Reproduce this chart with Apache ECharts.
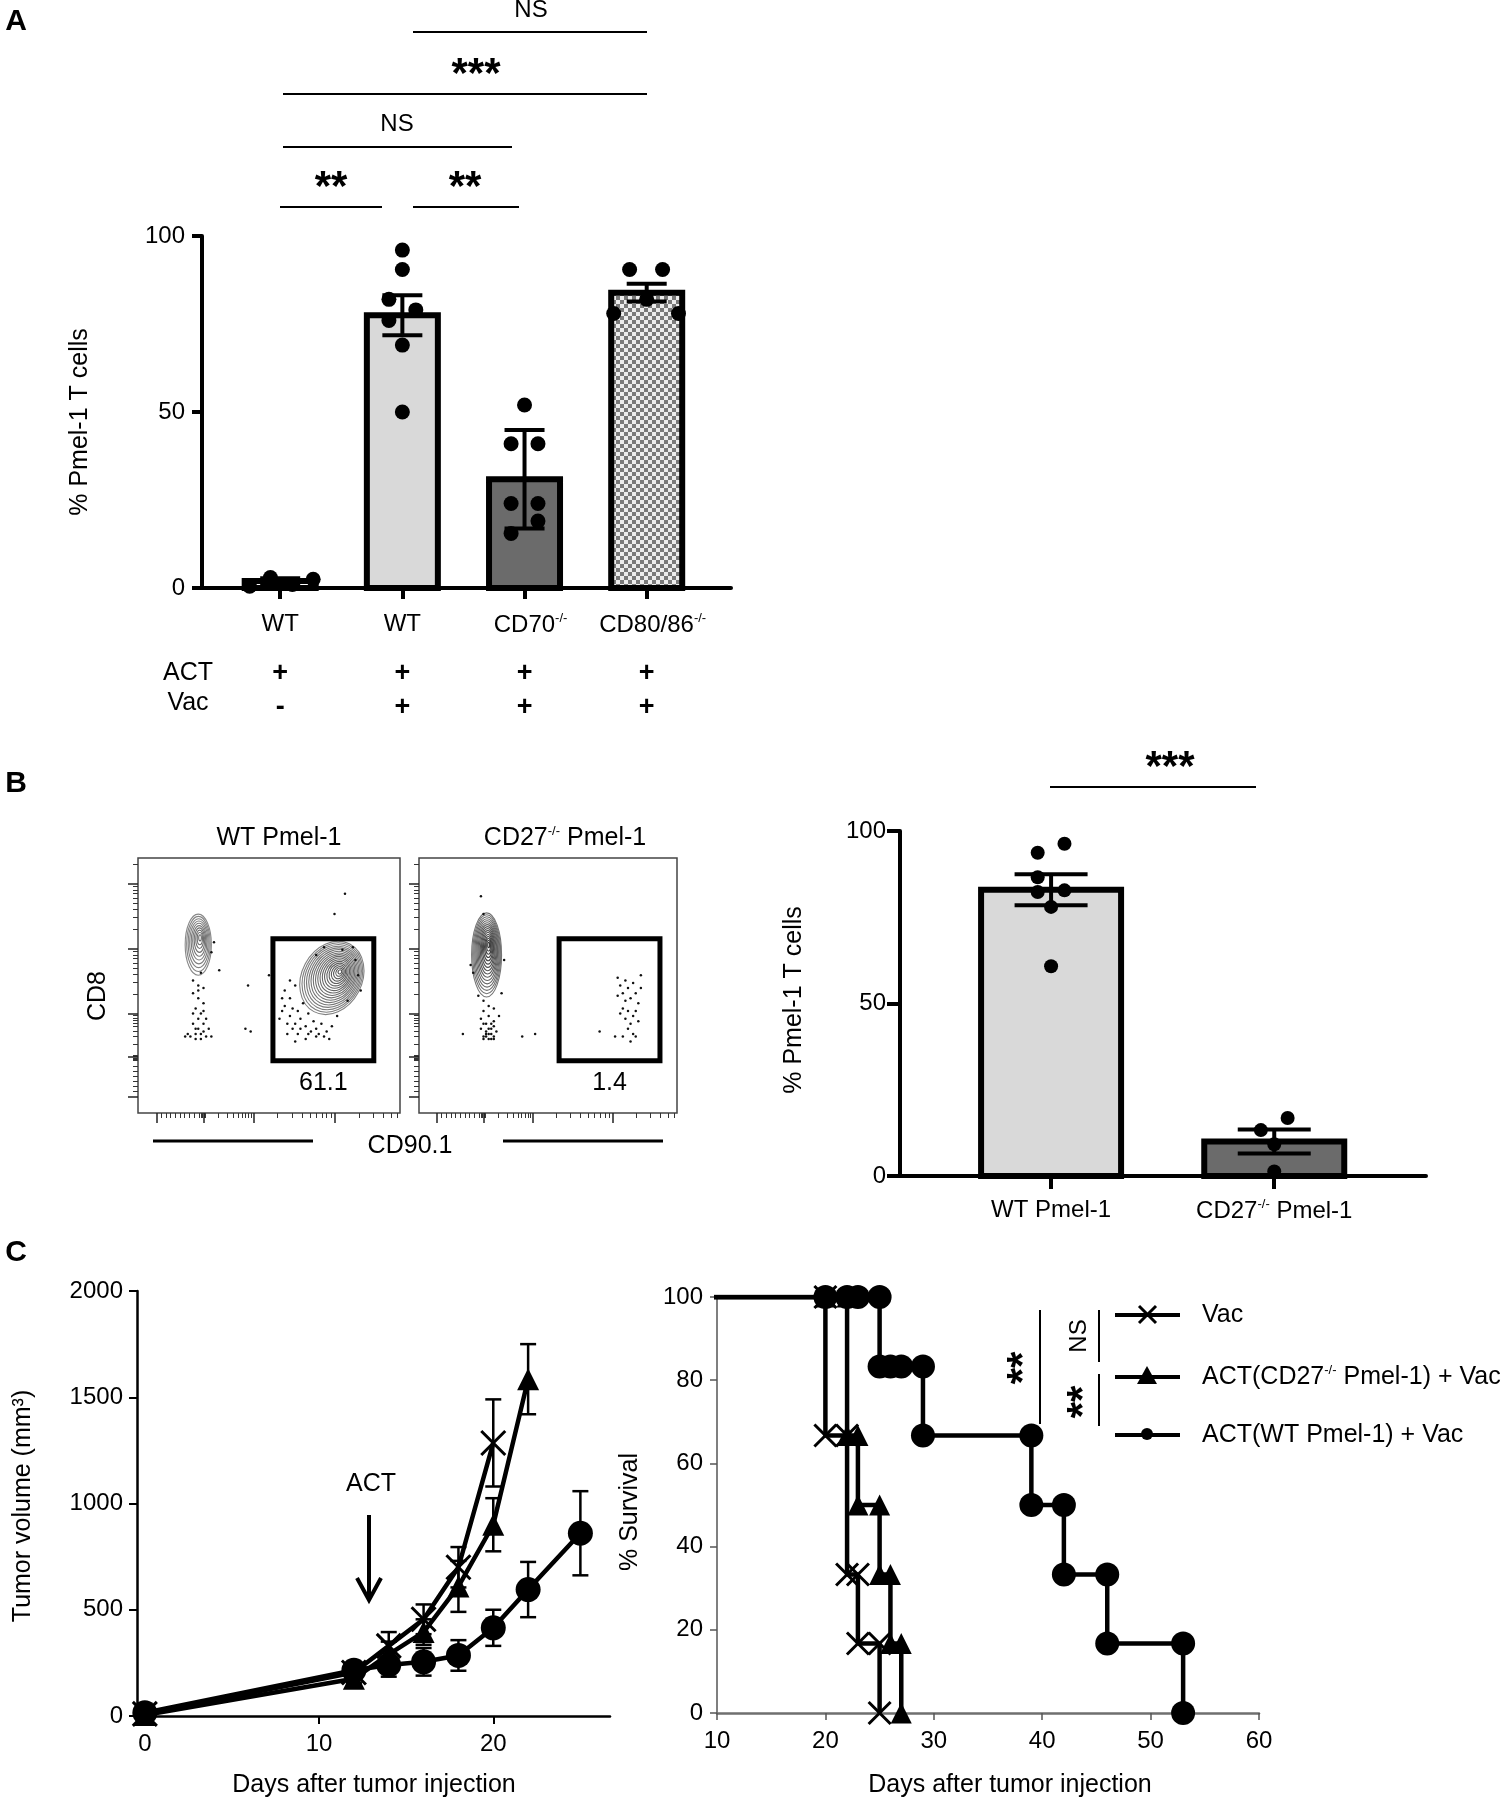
<!DOCTYPE html>
<html>
<head>
<meta charset="utf-8">
<title>Pmel-1 figure</title>
<script src="https://cdn.jsdelivr.net/npm/echarts@6/dist/echarts.min.js"></script>
<style>
html,body{margin:0;padding:0;background:#fff;}
#chart{width:1509px;height:1800px;}
</style>
</head>
<body>
<div id="chart"></div>
<script>
// ================= DATA =================
// ---- Panel A ----
const aCategories = ['WT', 'WT', 'CD70', 'CD80/86'];
const aKnockout = [false, false, true, true];
const aActRow = ['+', '+', '+', '+'];
const aVacRow = ['-', '+', '+', '+'];
const aMeans = [2, 77.5, 30.9, 83.9];
const aErrors = [0.8, 5.7, 14, 2.5];
const aDots = [
  [-0.25, 0.5], [-0.08, 3], [0.1, 1], [0.27, 2.5],
  [1, 96], [1, 90.5], [0.89, 82], [1.11, 79], [0.89, 76], [1, 69], [1, 50],
  [2, 52], [1.89, 41], [2.11, 41], [1.89, 24], [2.11, 24], [2.11, 19], [1.89, 15.5],
  [2.86, 90.5], [3.13, 90.5], [3, 82], [2.73, 78], [3.26, 78]
];

// ---- Panel B flow plots (axis units 0..1, log-like display) ----
const flowGateWT = [[0.515, 0.205, 0.90, 0.683, 61.1]];
const flowGateKO = [[0.543, 0.205, 0.934, 0.683, 1.4]];
// populations: [cx, cy, rx, ry, tiltDeg, contourLevels, density]
const flowPopsWT = [[0.23, 0.66, 0.05, 0.12, 0, 10, 0.5], [0.74, 0.53, 0.115, 0.15, 28, 18, 0.65]];
const flowPopsKO = [[0.262, 0.62, 0.058, 0.165, 0, 16, 0.9]];
const flowDotsWT = [
  [0.21,0.47],[0.23,0.45],[0.25,0.43],[0.22,0.41],[0.24,0.39],[0.23,0.37],[0.21,0.35],[0.25,0.35],[0.22,0.33],
  [0.24,0.31],[0.20,0.30],[0.26,0.30],[0.23,0.50],[0.25,0.49],[0.21,0.52],[0.24,0.55],[0.28,0.63],[0.29,0.67],
  [0.31,0.56],[0.28,0.30],[0.18,0.30],[0.22,0.31],[0.24,0.29],[0.23,0.48],[0.19,0.31],[0.27,0.33],[0.26,0.37],
  [0.22,0.29],[0.25,0.32],[0.23,0.33],[0.21,0.39],[0.25,0.40],
  [0.42,0.50],[0.41,0.33],[0.43,0.32],[0.79,0.86],[0.75,0.78],[0.50,0.54],
  [0.56,0.42],[0.58,0.38],[0.60,0.35],[0.62,0.37],[0.64,0.34],[0.66,0.32],[0.68,0.33],[0.70,0.35],[0.58,0.45],
  [0.56,0.48],[0.60,0.50],[0.63,0.43],[0.55,0.40],[0.61,0.31],[0.72,0.32],[0.74,0.34],[0.68,0.30],[0.64,0.29],
  [0.59,0.33],[0.57,0.35],[0.83,0.60],[0.84,0.54],[0.78,0.64],[0.71,0.65],[0.68,0.62],[0.76,0.38],[0.80,0.44],
  [0.54,0.37],[0.61,0.40],[0.65,0.39],[0.59,0.41],[0.62,0.33],[0.67,0.36],[0.69,0.31],[0.71,0.30],[0.57,0.31],
  [0.60,0.28],[0.65,0.31],[0.73,0.29],[0.82,0.65],[0.81,0.68],[0.85,0.48],[0.55,0.45],[0.58,0.52]
];
const flowDotsKO = [
  [0.25,0.40],[0.27,0.38],[0.29,0.36],[0.26,0.35],[0.28,0.33],[0.27,0.31],[0.25,0.30],[0.29,0.30],[0.26,0.30],
  [0.28,0.29],[0.30,0.32],[0.24,0.33],[0.27,0.42],[0.29,0.41],[0.25,0.44],[0.21,0.55],[0.20,0.58],[0.33,0.60],
  [0.32,0.47],[0.24,0.37],[0.28,0.35],[0.26,0.32],[0.27,0.29],[0.29,0.29],[0.25,0.29],[0.31,0.38],[0.23,0.46],
  [0.26,0.31],[0.28,0.31],[0.27,0.33],[0.25,0.35],[0.29,0.34],
  [0.24,0.85],[0.25,0.78],[0.40,0.30],[0.45,0.31],[0.17,0.31],
  [0.77,0.53],[0.78,0.50],[0.79,0.47],[0.80,0.52],[0.81,0.49],[0.82,0.45],[0.83,0.51],[0.84,0.47],[0.85,0.43],
  [0.80,0.44],[0.79,0.41],[0.81,0.40],[0.83,0.38],[0.82,0.35],[0.80,0.37],[0.78,0.39],[0.84,0.40],[0.86,0.49],
  [0.85,0.36],[0.81,0.33],[0.83,0.31],[0.79,0.30],[0.70,0.32],[0.76,0.30],[0.84,0.30],[0.82,0.28],[0.86,0.54],[0.77,0.46]
];

// ---- Panel B bar chart ----
const bCategories = ['WT Pmel-1', 'CD27 Pmel-1'];
const bMeans = [83, 10];
const bErrors = [4.5, 3.5];
const bDots = [
  [-0.06, 93.7], [0.06, 96.3], [-0.06, 86.6], [-0.06, 82.3], [0.06, 82.8], [0, 78], [0, 60.8],
  [1.06, 16.8], [0.94, 13.3], [1, 9.2], [1, 1.3]
];

// ---- Panel C tumor growth ----
const cDaysVac = [0, 12, 14, 16, 18, 20];
const cVolVac = [10, 205, 330, 455, 700, 1285];
const cErrVac = [0, 20, 65, 70, 95, 205];
const cDaysKO = [0, 12, 14, 16, 18, 20, 22];
const cVolKO = [5, 175, 290, 395, 610, 900, 1585];
const cErrKO = [0, 20, 60, 60, 120, 125, 165];
const cDaysWT = [0, 12, 14, 16, 18, 20, 22, 25];
const cVolWT = [15, 215, 240, 255, 285, 415, 595, 860];
const cErrWT = [0, 20, 55, 65, 72, 85, 130, 198];

// ---- Panel C survival (vertices of Kaplan-Meier steps) ----
const sVac = [[20,100],[20,66.7],[22,66.7],[22,33.3],[23,33.3],[23,16.7],[25,16.7],[25,0]];
const sKO = [[20,100],[22,100],[22,66.7],[23,66.7],[23,50],[25,50],[25,33.3],[26,33.3],[26,16.7],[27,16.7],[27,0]];
const sWT = [[20,100],[22,100],[23,100],[25,100],[25,83.3],[26,83.3],[27,83.3],[29,83.3],[29,66.7],[39,66.7],
             [39,50],[42,50],[42,33.3],[46,33.3],[46,16.7],[53,16.7],[53,0]];
const sLegend = ['Vac', 'ACT(CD27', 'ACT(WT Pmel-1) + Vac'];

// ================= RENDERING =================
const F = '"Liberation Sans", Arial, Helvetica, sans-serif';
const chart = echarts.init(document.getElementById('chart'), null, {renderer: 'canvas', width: 1509, height: 1800});

function checkerPattern() {
  const c = document.createElement('canvas');
  c.width = 8; c.height = 8;
  const g = c.getContext('2d');
  g.fillStyle = '#ededed'; g.fillRect(0, 0, 8, 8);
  g.fillStyle = '#7a7a7a'; g.fillRect(0, 0, 4, 4); g.fillRect(4, 4, 4, 4);
  return {image: c, repeat: 'repeat'};
}
const aFills = ['#ffffff', '#d9d9d9', '#6b6b6b', checkerPattern()];
const bFills = ['#d9d9d9', '#6b6b6b'];

function barRender(widthPx, fills, lw) {
  return function (params, api) {
    const x = api.value(0), y = api.value(1);
    const p0 = api.coord([x, 0]), p1 = api.coord([x, y]);
    return {type: 'rect', z2: 1,
      shape: {x: p0[0] - widthPx / 2, y: p1[1], width: widthPx, height: p0[1] - p1[1]},
      style: {fill: fills[params.dataIndex], stroke: '#000', lineWidth: lw}};
  };
}
function errRender(capPx, lw) {
  return function (params, api) {
    const x = api.value(0), m = api.value(1), e = api.value(2);
    if (!e) return null;
    const top = api.coord([x, m + e]), bot = api.coord([x, m - e]);
    const st = {stroke: '#000', lineWidth: lw};
    return {type: 'group', children: [
      {type: 'line', shape: {x1: top[0], y1: top[1], x2: bot[0], y2: bot[1]}, style: st},
      {type: 'line', shape: {x1: top[0] - capPx / 2, y1: top[1], x2: top[0] + capPx / 2, y2: top[1]}, style: st},
      {type: 'line', shape: {x1: bot[0] - capPx / 2, y1: bot[1], x2: bot[0] + capPx / 2, y2: bot[1]}, style: st}
    ]};
  };
}
function contourRender(params, api) {
  const c = api.coord([api.value(0), api.value(1)]);
  const s = api.size([api.value(2), api.value(3)]);
  const rot = -api.value(4) * Math.PI / 180;
  const n = api.value(5), dens = api.value(6);
  const children = [];
  for (let k = n; k >= 1; k--) {
    const f = k / n;
    const g = Math.round(160 - dens * 120 * (1 - f * 0.6));
    const col = 'rgb(' + g + ',' + g + ',' + g + ')';
    children.push({type: 'ellipse', rotation: rot, originX: c[0], originY: c[1],
      shape: {cx: c[0] + s[0] * (1 - f) * 0.15, cy: c[1] - s[1] * (1 - f) * 0.25, rx: s[0] * f, ry: s[1] * f},
      style: {fill: 'none', stroke: col, lineWidth: 1.1}});
  }
  return {type: 'group', children: children};
}
function gateRender(params, api) {
  const p0 = api.coord([api.value(0), api.value(1)]);
  const p1 = api.coord([api.value(2), api.value(3)]);
  return {type: 'group', children: [
    {type: 'rect', shape: {x: p0[0], y: p1[1], width: p1[0] - p0[0], height: p0[1] - p1[1]},
      style: {fill: 'none', stroke: '#000', lineWidth: 5}},
    {type: 'text', x: (p0[0] + p1[0]) / 2, y: p0[1] + 22,
      style: {text: String(api.value(4)), fontSize: 25, fontFamily: F, fill: '#000', align: 'center', verticalAlign: 'middle'}}
  ]};
}

// tick position helpers for the flow plot (decorative log-style ticks)
function decade(start, span, maxPos) {
  const out = [];
  for (let m = 2; m <= 9; m++) { const p = start + span * Math.log10(m); if (p <= maxPos) out.push(+p.toFixed(4)); }
  return out;
}
function linear(a, b, step) { const out = []; for (let p = a + step; p < b - 1e-6; p += step) out.push(+p.toFixed(4)); return out; }
const fxMajor = [0.07, 0.25, 0.44, 0.75];
const fxMinor = [].concat(linear(0.07, 0.25, 0.018), [0.243, 0.247, 0.253, 0.257], decade(0.25, 0.19, 0.44), decade(0.44, 0.31, 0.75), decade(0.75, 0.31, 1));
const fyMajor = [0.065, 0.22, 0.39, 0.645, 0.90];
const fyMinor = [].concat(linear(0.065, 0.22, 0.02), [0.212, 0.216, 0.224, 0.228], decade(0.22, 0.17, 0.39), decade(0.39, 0.255, 0.645), decade(0.645, 0.255, 0.9), decade(0.9, 0.255, 1));

function flowAxes(gridIndex) {
  const base = {type: 'value', gridIndex: gridIndex, min: 0, max: 1, axisLine: {show: false, onZero: false}, splitLine: {show: false}, axisLabel: {show: false}};
  return {
    x: [
      Object.assign({}, base, {position: 'bottom', axisTick: {show: true, customValues: fxMinor, length: 5, lineStyle: {color: '#333', width: 1}}}),
      Object.assign({}, base, {position: 'bottom', axisTick: {show: true, customValues: fxMajor, length: 10, lineStyle: {color: '#222', width: 1.5}}})
    ],
    y: [
      Object.assign({}, base, {position: 'left', axisTick: {show: true, customValues: fyMinor, length: 5, lineStyle: {color: '#333', width: 1}}}),
      Object.assign({}, base, {position: 'left', axisTick: {show: true, customValues: fyMajor, length: 10, lineStyle: {color: '#222', width: 1.5}}})
    ]
  };
}
const fWT = flowAxes(1), fKO = flowAxes(2);

const supRich = {
  n: {fontSize: 24, fontFamily: F, color: '#000'},
  s: {fontSize: 13, fontFamily: F, color: '#000', padding: [0, 0, 14, 0]},
  sp: {width: 12}
};

const blackAxis = (w) => ({show: true, onZero: false, lineStyle: {color: '#000', width: w}});
const X_PATH = 'path://M0,0L10,10M10,0L0,10';
const plain = v => String(v);

const option = {
  animation: false,
  backgroundColor: '#fff',
  textStyle: {fontFamily: F, color: '#000'},
  grid: [
    {left: 202, top: 236, width: 529, height: 352},
    {left: 138, top: 858, width: 262, height: 255, show: true, borderColor: '#444', borderWidth: 1.5, backgroundColor: 'transparent'},
    {left: 419, top: 858, width: 258, height: 255, show: true, borderColor: '#444', borderWidth: 1.5, backgroundColor: 'transparent'},
    {left: 900, top: 831, width: 526, height: 345},
    {left: 137, top: 1291, width: 473, height: 425},
    {left: 717, top: 1297, width: 542, height: 416}
  ],
  xAxis: [
    // 0: panel A main
    {type: 'value', gridIndex: 0, min: -0.64, max: 3.69, splitLine: {show: false},
      axisLine: blackAxis(4), axisTick: {show: true, customValues: [0, 1, 2, 3], length: 11, lineStyle: {color: '#000', width: 4}},
      axisLabel: {customValues: [0, 1, 2, 3], margin: 24, color: '#000', fontSize: 24, fontFamily: F,
        formatter: v => { const i = Math.round(v); return aKnockout[i] ? '{sp|}{n|' + aCategories[i] + '}{s|-/-}' : '{n|' + aCategories[i] + '}'; },
        rich: supRich}},
    // 1: panel A ACT row
    {type: 'value', gridIndex: 0, position: 'bottom', offset: 70, min: -0.64, max: 3.69, splitLine: {show: false},
      axisLine: {show: false, onZero: false}, axisTick: {show: false},
      axisLabel: {customValues: [0, 1, 2, 3], margin: 2, color: '#000', fontSize: 27, fontWeight: 'bold', fontFamily: F,
        formatter: v => aActRow[Math.round(v)]}},
    // 2: panel A Vac row
    {type: 'value', gridIndex: 0, position: 'bottom', offset: 104, min: -0.64, max: 3.69, splitLine: {show: false},
      axisLine: {show: false, onZero: false}, axisTick: {show: false},
      axisLabel: {customValues: [0, 1, 2, 3], margin: 2, color: '#000', fontSize: 27, fontWeight: 'bold', fontFamily: F,
        formatter: v => aVacRow[Math.round(v)]}},
    // 3,4: flow WT
    fWT.x[0], fWT.x[1],
    // 5,6: flow KO
    fKO.x[0], fKO.x[1],
    // 7: panel B bar
    {type: 'value', gridIndex: 3, min: -0.677, max: 1.68, splitLine: {show: false},
      axisLine: blackAxis(4), axisTick: {show: true, customValues: [0, 1], length: 13, lineStyle: {color: '#000', width: 4}},
      axisLabel: {customValues: [0, 1], margin: 22, color: '#000', fontSize: 24, fontFamily: F,
        formatter: v => Math.round(v) === 1 ? '{n|CD27}{s|-/-}{n| Pmel-1}' : '{n|' + bCategories[0] + '}',
        rich: supRich}},
    // 8: panel C tumor growth
    {type: 'value', gridIndex: 4, min: -0.45, max: 26.7, splitLine: {show: false},
      axisLine: blackAxis(2.5), axisTick: {show: true, customValues: [0, 10, 20], length: 8, lineStyle: {color: '#000', width: 2}},
      axisLabel: {customValues: [0, 10, 20], margin: 16, color: '#000', fontSize: 24, fontFamily: F, formatter: plain}},
    // 9: panel C survival
    {type: 'value', gridIndex: 5, min: 10, max: 60, interval: 10, splitLine: {show: false},
      axisLine: {show: true, onZero: false, lineStyle: {color: '#6f6f6f', width: 2.5}}, axisTick: {show: true, length: 7, lineStyle: {color: '#555', width: 1.5}},
      axisLabel: {margin: 16, color: '#000', fontSize: 24, fontFamily: F, formatter: plain}}
  ],
  yAxis: [
    // 0: panel A
    {type: 'value', gridIndex: 0, min: 0, max: 100, interval: 50, splitLine: {show: false},
      axisLine: blackAxis(4), axisTick: {show: true, length: 10, lineStyle: {color: '#000', width: 4}},
      axisLabel: {margin: 17, color: '#000', fontSize: 24, fontFamily: F, formatter: plain}},
    // 1..4 flow
    fWT.y[0], fWT.y[1], fKO.y[0], fKO.y[1],
    // 5: panel B
    {type: 'value', gridIndex: 3, min: 0, max: 100, interval: 50, splitLine: {show: false},
      axisLine: blackAxis(4), axisTick: {show: true, length: 13, lineStyle: {color: '#000', width: 4}},
      axisLabel: {margin: 14, color: '#000', fontSize: 24, fontFamily: F, formatter: plain}},
    // 6: panel C tumor growth
    {type: 'value', gridIndex: 4, min: 0, max: 2000, interval: 500, splitLine: {show: false},
      axisLine: blackAxis(2.5), axisTick: {show: true, length: 8, lineStyle: {color: '#000', width: 2}},
      axisLabel: {margin: 14, color: '#000', fontSize: 24, fontFamily: F, formatter: plain}},
    // 7: panel C survival
    {type: 'value', gridIndex: 5, min: 0, max: 100, interval: 20, splitLine: {show: false},
      axisLine: {show: true, onZero: false, lineStyle: {color: '#555', width: 1.5}}, axisTick: {show: true, length: 7, lineStyle: {color: '#555', width: 1.5}},
      axisLabel: {margin: 14, color: '#000', fontSize: 24, fontFamily: F, formatter: plain}}
  ],
  series: [
    // ---- Panel A ----
    {type: 'custom', name: 'A bars', xAxisIndex: 0, yAxisIndex: 0, z: 2,
      renderItem: barRender(71, aFills, 6), data: aMeans.map((m, i) => [i, m])},
    {type: 'custom', name: 'A err', xAxisIndex: 0, yAxisIndex: 0, z: 3,
      renderItem: errRender(40, 4), data: aMeans.map((m, i) => [i, m, aErrors[i]])},
    {type: 'scatter', name: 'A dots', xAxisIndex: 0, yAxisIndex: 0, z: 4, symbolSize: 15,
      itemStyle: {color: '#000', opacity: 1}, data: aDots},
    // ---- Flow WT ----
    {type: 'custom', xAxisIndex: 3, yAxisIndex: 1, z: 2, renderItem: contourRender, data: flowPopsWT},
    {type: 'scatter', xAxisIndex: 3, yAxisIndex: 1, z: 3, symbolSize: 2.5, itemStyle: {color: '#111', opacity: 1}, data: flowDotsWT},
    {type: 'custom', xAxisIndex: 3, yAxisIndex: 1, z: 4, renderItem: gateRender, data: flowGateWT},
    // ---- Flow KO ----
    {type: 'custom', xAxisIndex: 5, yAxisIndex: 3, z: 2, renderItem: contourRender, data: flowPopsKO},
    {type: 'scatter', xAxisIndex: 5, yAxisIndex: 3, z: 3, symbolSize: 2.5, itemStyle: {color: '#111', opacity: 1}, data: flowDotsKO},
    {type: 'custom', xAxisIndex: 5, yAxisIndex: 3, z: 4, renderItem: gateRender, data: flowGateKO},
    // ---- Panel B bars ----
    {type: 'custom', xAxisIndex: 7, yAxisIndex: 5, z: 2,
      renderItem: barRender(140, bFills, 6), data: bMeans.map((m, i) => [i, m])},
    {type: 'custom', xAxisIndex: 7, yAxisIndex: 5, z: 3,
      renderItem: errRender(73, 4), data: bMeans.map((m, i) => [i, m, bErrors[i]])},
    {type: 'scatter', xAxisIndex: 7, yAxisIndex: 5, z: 4, symbolSize: 14, itemStyle: {color: '#000', opacity: 1}, data: bDots},
    // ---- Panel C tumor growth ----
    {type: 'custom', xAxisIndex: 8, yAxisIndex: 6, z: 2, renderItem: errRender(16, 2.5),
      data: cDaysWT.map((d, i) => [d, cVolWT[i], cErrWT[i]])},
    {type: 'custom', xAxisIndex: 8, yAxisIndex: 6, z: 2, renderItem: errRender(16, 2.5),
      data: cDaysKO.map((d, i) => [d, cVolKO[i], cErrKO[i]])},
    {type: 'custom', xAxisIndex: 8, yAxisIndex: 6, z: 2, renderItem: errRender(16, 2.5),
      data: cDaysVac.map((d, i) => [d, cVolVac[i], cErrVac[i]])},
    {type: 'line', name: 'ACT(WT Pmel-1) + Vac', xAxisIndex: 8, yAxisIndex: 6, z: 3, showAllSymbol: true,
      symbol: 'circle', symbolSize: 25, lineStyle: {color: '#000', width: 4.5}, itemStyle: {color: '#000', opacity: 1},
      data: cDaysWT.map((d, i) => [d, cVolWT[i]])},
    {type: 'line', name: 'ACT(CD27-/- Pmel-1) + Vac', xAxisIndex: 8, yAxisIndex: 6, z: 4, showAllSymbol: true,
      symbol: 'triangle', symbolSize: 22, lineStyle: {color: '#000', width: 4.5}, itemStyle: {color: '#000', opacity: 1},
      data: cDaysKO.map((d, i) => [d, cVolKO[i]])},
    {type: 'line', name: 'Vac', xAxisIndex: 8, yAxisIndex: 6, z: 5, showAllSymbol: true,
      symbol: X_PATH, symbolSize: 24, lineStyle: {color: '#000', width: 4.5},
      itemStyle: {color: '#000', borderColor: '#000', borderWidth: 3, opacity: 1},
      data: cDaysVac.map((d, i) => [d, cVolVac[i]])},
    // ---- Panel C survival ----
    {type: 'line', name: 'S WT', xAxisIndex: 9, yAxisIndex: 7, z: 3, showAllSymbol: true, clip: true,
      symbol: 'circle', symbolSize: 24, lineStyle: {color: '#000', width: 4.5}, itemStyle: {color: '#000', opacity: 1},
      data: [{value: [0, 100], symbol: 'none'}].concat(sWT)},
    {type: 'line', name: 'S KO', xAxisIndex: 9, yAxisIndex: 7, z: 4, showAllSymbol: true, clip: true,
      symbol: 'triangle', symbolSize: 21, lineStyle: {color: '#000', width: 4.5}, itemStyle: {color: '#000', opacity: 1},
      data: [{value: [0, 100], symbol: 'none'}].concat(sKO)},
    {type: 'line', name: 'S Vac', xAxisIndex: 9, yAxisIndex: 7, z: 5, showAllSymbol: true, clip: true,
      symbol: X_PATH, symbolSize: 22, lineStyle: {color: '#000', width: 4.5},
      itemStyle: {color: '#000', borderColor: '#000', borderWidth: 3, opacity: 1},
      data: [{value: [0, 100], symbol: 'none'}].concat(sVac)}
  ]
};
chart.setOption(option);

// ================= ANNOTATIONS =================
const T = (x, y, text, size, extra) => Object.assign({type: 'text', x: x, y: y,
  style: Object.assign({text: text, fontSize: size, fontFamily: F, fill: '#000', align: 'center', verticalAlign: 'middle'}, (extra && extra.style) || {})},
  extra ? {rotation: extra.rotation || 0} : {});
const L = (x1, y1, x2, y2, w) => ({type: 'line', shape: {x1: x1, y1: y1, x2: x2, y2: y2}, style: {stroke: '#000', lineWidth: w || 2}});
const ROT = {rotation: Math.PI / 2};
const STAR = {style: {fontWeight: 'bold'}};

const g = [];
// panel letters
g.push(T(16, 22, 'A', 30, {style: {fontWeight: 'bold'}}));
g.push(T(16, 784, 'B', 30, {style: {fontWeight: 'bold'}}));
g.push(T(16, 1253, 'C', 30, {style: {fontWeight: 'bold'}}));

// Panel A significance
g.push(L(280, 207, 382, 207), L(413, 207, 519, 207), L(283, 147, 512, 147), L(283, 94, 647, 94), L(413, 32, 647, 32));
g.push(T(331, 188, '**', 42, STAR), T(465, 188, '**', 42, STAR));
g.push(T(397, 124, 'NS', 24), T(476, 75, '***', 42, STAR), T(531, 10, 'NS', 24));
g.push(T(80, 422, '% Pmel-1 T cells', 25, ROT));
g.push(T(188, 673, 'ACT', 25), T(188, 703, 'Vac', 25));

// Panel B flow annotations
g.push(T(279, 838, 'WT Pmel-1', 25));
g.push({type: 'text', x: 565, y: 838, style: {text: '{n|CD27}{s|-/-}{n| Pmel-1}', rich: {
  n: {fontSize: 25, fontFamily: F, color: '#000'}, s: {fontSize: 13, fontFamily: F, color: '#000', padding: [0, 0, 14, 0]}},
  align: 'center', verticalAlign: 'middle', fill: '#000'}});
g.push(T(98, 996, 'CD8', 25, ROT));
g.push(T(410, 1146, 'CD90.1', 25));
g.push(L(153, 1141, 313, 1141, 3), L(503, 1141, 663, 1141, 3));

// Panel B bar annotations
g.push(L(1050, 787, 1256, 787, 2));
g.push(T(1170, 768, '***', 42, STAR));
g.push(T(794, 1000, '% Pmel-1 T cells', 25, ROT));

// Panel C tumor growth annotations
g.push(T(23, 1506, 'Tumor volume (mm³)', 25, ROT));
g.push(T(374, 1785, 'Days after tumor injection', 25));
g.push(T(371, 1484, 'ACT', 25));
g.push(L(369, 1515, 369, 1598, 4));
g.push({type: 'polyline', shape: {points: [[357, 1578], [369, 1600], [381, 1578]]}, style: {stroke: '#000', lineWidth: 4, fill: 'none'}});

// Panel C survival annotations
g.push(T(630, 1512, '% Survival', 25, ROT));
g.push(T(1010, 1785, 'Days after tumor injection', 25));
g.push(L(1040, 1310, 1040, 1424, 2), L(1099, 1310, 1099, 1362, 2), L(1099, 1374, 1099, 1426, 2));
g.push(T(1024, 1368, '**', 42, {rotation: Math.PI / 2, style: {fontWeight: 'bold'}}));
g.push(T(1079, 1336, 'NS', 24, ROT));
g.push(T(1084, 1402, '**', 42, {rotation: Math.PI / 2, style: {fontWeight: 'bold'}}));
// legend
const legY = [1315, 1377, 1435];
legY.forEach(y => g.push(L(1115, y, 1180, y, 4)));
g.push(L(1139, 1306, 1156, 1323, 3), L(1156, 1306, 1139, 1323, 3));
g.push({type: 'polygon', shape: {points: [[1147, 1366], [1137, 1384], [1157, 1384]]}, style: {fill: '#000'}});
g.push({type: 'circle', shape: {cx: 1147, cy: 1434, r: 6}, style: {fill: '#000'}});
g.push({type: 'text', x: 1202, y: 1315, style: {text: sLegend[0], fontSize: 25, fontFamily: F, fill: '#000', verticalAlign: 'middle'}});
g.push({type: 'text', x: 1202, y: 1377, style: {text: '{n|' + sLegend[1] + '}{s|-/-}{n| Pmel-1) + Vac}', rich: {
  n: {fontSize: 25, fontFamily: F, color: '#000'}, s: {fontSize: 13, fontFamily: F, color: '#000', padding: [0, 0, 14, 0]}}, verticalAlign: 'middle', fill: '#000'}});
g.push({type: 'text', x: 1202, y: 1435, style: {text: sLegend[2], fontSize: 25, fontFamily: F, fill: '#000', verticalAlign: 'middle'}});

chart.setOption({graphic: {elements: g}});
</script>
</body>
</html>
